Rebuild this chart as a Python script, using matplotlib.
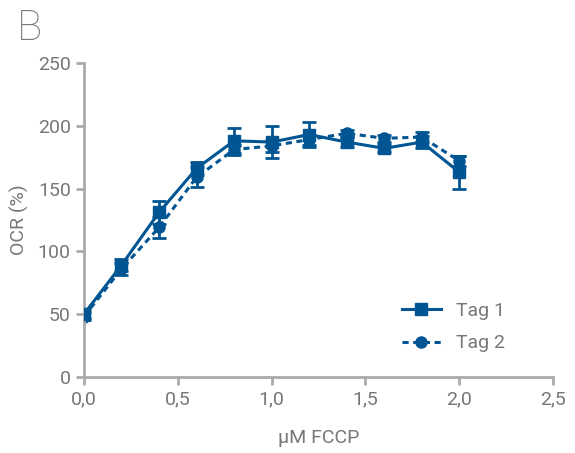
import matplotlib
matplotlib.use("Agg")
import matplotlib.pyplot as plt
from matplotlib.ticker import FuncFormatter

fccp = [0.0, 0.2, 0.4, 0.6, 0.8, 1.0, 1.2, 1.4, 1.6, 1.8, 2.0]
tag1 = [50, 89, 131, 166, 188, 187, 193, 187, 182, 187, 163]
tag1_err = [3, 5, 9, 5, 10, 13, 10, 4, 3, 5, 13]
tag2 = [48, 86, 119, 159, 181, 184, 189, 194, 190, 191, 172]
tag2_err = [3, 5, 8, 8, 4, 5, 4, 3, 3, 4, 4]

color = "#005592"
gray = "#777777"
plt.rcParams['font.family'] = ['Roboto', 'DejaVu Sans']

fig = plt.figure(figsize=(5.75, 4.53), dpi=100)
ax = fig.add_axes([0.146, 0.168, 0.816, 0.693])

ax.errorbar(fccp, tag1, yerr=tag1_err, color=color, marker='s', markersize=9,
            linewidth=2.2, capsize=5, capthick=2, elinewidth=2, label='Tag 1', zorder=3)
ax.errorbar(fccp, tag2, yerr=tag2_err, color=color, marker='o', markersize=8,
            linewidth=2.2, linestyle=(0, (2, 1.5)), capsize=5, capthick=2, elinewidth=2,
            label='Tag 2', zorder=2)

ax.set_xlim(0, 2.5)
ax.set_ylim(0, 250)
ax.set_xticks([0, 0.5, 1.0, 1.5, 2.0, 2.5])
ax.set_yticks([0, 50, 100, 150, 200, 250])
ax.xaxis.set_major_formatter(FuncFormatter(lambda v, p: f"{v:.1f}".replace('.', ',')))
for s in ['top', 'right']:
    ax.spines[s].set_visible(False)
for s in ['left', 'bottom']:
    ax.spines[s].set_color('#aaaaaa')
    ax.spines[s].set_linewidth(2)
ax.tick_params(colors='#aaaaaa', width=2, length=6, labelsize=14, labelcolor=gray)
ax.set_xlabel('µM FCCP', fontsize=14, color=gray, labelpad=15)
ax.set_ylabel('OCR (%)', fontsize=14, color=gray, labelpad=6)

handles, labels = ax.get_legend_handles_labels()
handles = [h[0] for h in handles]
leg = ax.legend(handles, labels, loc='lower right', bbox_to_anchor=(0.935, 0.022),
                frameon=False, fontsize=14, handlelength=2.0, labelcolor=gray,
                labelspacing=0.75)

fig.text(17 / 575, 1 - 8 / 453, 'B', fontsize=30, color=gray, va='top', ha='left',
         fontweight='light')

fig.savefig('out.png', dpi=100)
